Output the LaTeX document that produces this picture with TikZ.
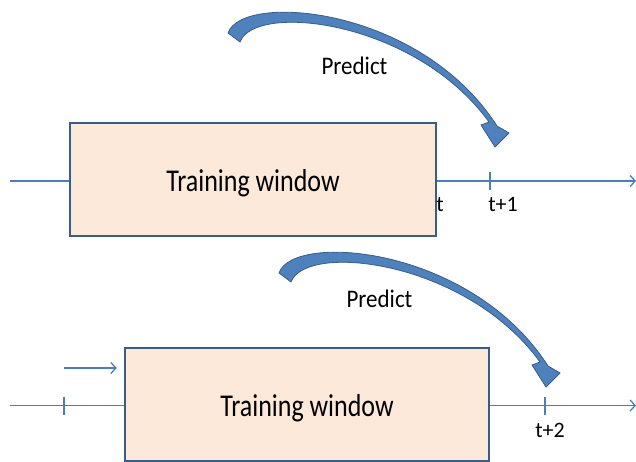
\documentclass[tikz,border=0pt]{standalone}
\usepackage{fontspec}
\setmainfont{Carlito}
\usepackage{graphicx}
\usepackage[dvipsnames]{xcolor}
\usetikzlibrary{arrows.meta}

\definecolor{winfill}{HTML}{FDE9D9}
\definecolor{winline}{HTML}{385D8A}
\definecolor{lineblue}{HTML}{4A7EBB}
\definecolor{arrowblue}{HTML}{4F81BD}

\newcommand{\tallwin}[1]{\raisebox{-12pt}[0pt][0pt]{\scalebox{1}[1.22]{#1}}}
\newcommand{\tallpred}[1]{\scalebox{1}[1.1]{#1}}

\tikzset{
  predict arrow/.pic={
    \filldraw[fill=arrowblue, draw=winline, line width=0.8pt]
      (228,33) .. controls (242,-8) and (420,6) .. (497,126)
      -- (509,133) -- (495,147) -- (481,125) -- (489,122)
      .. controls (415,20) and (255,2) .. (240,42) -- cycle;
  }
}

\begin{document}
\begin{tikzpicture}[x=1pt,y=-1pt,>={Straight Barb[length=5pt,width=11pt]},
  window/.style={draw=winline,fill=winfill,line width=2.5pt,minimum height=113pt,inner sep=0pt,font=\fontsize{26}{30}\selectfont},
  timeline/.style={lineblue,line width=1.3pt},
  tlabel/.style={inner sep=0pt,font=\fontsize{22}{26}\selectfont},
  ptext/.style={inner sep=0pt,font=\fontsize{23}{27}\selectfont}]

  \useasboundingbox (0,0) rectangle (636,462);

  % first window
  \coordinate (a1) at (10,181);
  \coordinate (b1) at (636,181);
  \coordinate (k1) at (490,181);
  \draw[timeline,->] (a1) -- (b1);
  \draw[timeline] ([yshift=-9pt]k1) -- ([yshift=9pt]k1);
  \node[window,minimum width=366pt] (w1) at (253,179.5) {\tallwin{Training window}};
  \node[tlabel] (t0) at (440,205) {t};
  \node[tlabel] (t1) at (503,205) {t+1};
  \node[ptext] (p1) at (354.5,65.5) {\tallpred{Predict}};
  \pic at (0,0) {predict arrow};

  % second window, moved on by one step
  \coordinate (a2) at (10,405.5);
  \coordinate (b2) at (636,405.5);
  \coordinate (k2) at (64,405.5);
  \coordinate (k3) at (545,405.5);
  \coordinate (s1) at (64,368);
  \draw[timeline,->] (a2) -- (b2);
  \draw[timeline] ([yshift=-9pt]k2) -- ([yshift=9pt]k2);
  \draw[timeline] ([yshift=-9pt]k3) -- ([yshift=9pt]k3);
  \node[window,minimum width=364pt] (w2) at (307,404.5) {\tallwin{Training window}};
  \draw[timeline,->,shorten >=7pt] (s1) -- (s1 -| w2.west);
  \node[tlabel] (t2) at (550,430) {t+2};
  \node[ptext] (p2) at (379.5,299) {\tallpred{Predict}};
  \pic at (51,240) {predict arrow};
\end{tikzpicture}
\end{document}
